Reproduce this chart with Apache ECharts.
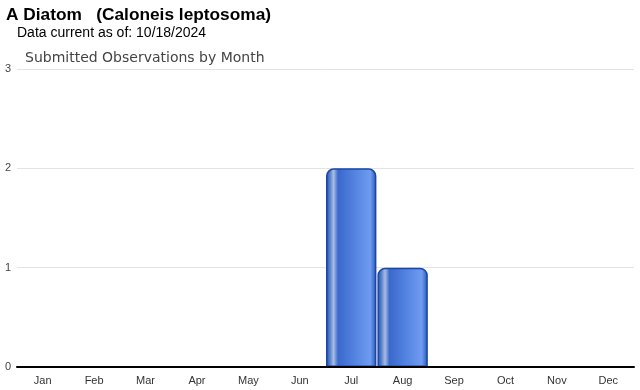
<!DOCTYPE html>
<html><head><meta charset="utf-8">
<script src="https://cdn.jsdelivr.net/npm/echarts@6/dist/echarts.min.js"></script>
<style>html,body{margin:0;padding:0;background:#fff}#c{width:640px;height:390px}</style>
</head><body><div id="c"></div>
<script>
const months = ['Jan','Feb','Mar','Apr','May','Jun','Jul','Aug','Sep','Oct','Nov','Dec'];
const observations = [0,0,0,0,0,0,2,1,0,0,0,0];
const yTicks = [0,1,2,3];
const titleText = 'A Diatom   (Caloneis leptosoma)';
const subText = 'Data current as of: 10/18/2024';
const chartTitle = 'Submitted Observations by Month';

const chart = echarts.init(document.getElementById('c'));
const grad = new echarts.graphic.LinearGradient(0,0,1,0,[
  {offset:0,color:'#1d4cae'},
  {offset:0.08,color:'#5a82cc'},
  {offset:0.15,color:'#a9bde2'},
  {offset:0.24,color:'#3a68cc'},
  {offset:0.55,color:'#5282e0'},
  {offset:0.88,color:'#6f9cf0'},
  {offset:1,color:'#2454b8'}
]);
chart.setOption({
  animation:false,
  title:[
    {text:titleText,left:6,top:7,padding:0,textStyle:{fontFamily:'Arial, Liberation Sans',fontSize:17.3,fontWeight:'bold',color:'#000'}},
    {text:subText,left:17,top:26,padding:0,textStyle:{fontFamily:'Arial, Liberation Sans',fontSize:14,fontWeight:'normal',color:'#000'}},
    {text:chartTitle,left:25,top:51,padding:0,textStyle:{fontFamily:'DejaVu Sans, Arial',fontSize:14,fontWeight:'normal',color:'#444'}}
  ],
  grid:{left:17,right:6,top:69,bottom:23},
  xAxis:{type:'category',data:months,z:10,
    axisLine:{lineStyle:{color:'#000',width:2}},
    axisTick:{alignWithLabel:true,length:4,lineStyle:{color:'#ccc'}},
    axisLabel:{fontFamily:'Arial, Liberation Sans',fontSize:11,color:'#333',margin:8,interval:0}},
  yAxis:{type:'value',min:yTicks[0],max:yTicks[yTicks.length-1],interval:1,
    axisLine:{show:false},axisTick:{show:false},
    axisLabel:{fontFamily:'Arial, Liberation Sans',fontSize:11,color:'#444',margin:6,align:'right',
      formatter:v=>yTicks.includes(v)?String(v):''},
    splitLine:{lineStyle:{color:'#e3e3e3'}}},
  series:[{type:'bar',data:observations.map(v=>v===0?'-':v),barCategoryGap:'2%',
    itemStyle:{color:grad,borderColor:'#1a47a6',borderWidth:1.5,borderRadius:[7,7,0,0]}}]
});
</script></body></html>
